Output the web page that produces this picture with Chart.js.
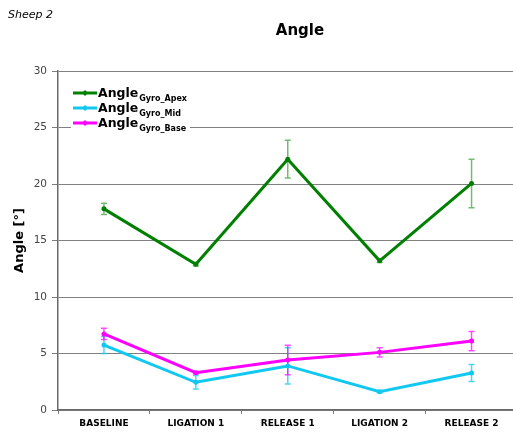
<!DOCTYPE html>
<html>
<head>
<meta charset="utf-8">
<script src="https://cdn.jsdelivr.net/npm/chart.js@4/dist/chart.umd.min.js"></script>
<style>
  html, body { margin: 0; padding: 0; background: #ffffff; overflow: hidden; }
  #wrap { width: 513px; height: 435px; overflow: hidden; }
</style>
</head>
<body>
<div id="wrap"><canvas id="chart" width="520" height="435"></canvas></div>
<script>
// Gyro angle per phase, mean and spread
const categories = ['BASELINE', 'LIGATION 1', 'RELEASE 1', 'LIGATION 2', 'RELEASE 2'];

const apexValues = [17.8, 12.9, 22.2, 13.2, 20.05];
const apexErrors = [0.5, 0.15, 1.67, 0.15, 2.15];

const midValues = [5.75, 2.45, 3.9, 1.62, 3.27];
const midErrors = [0.75, 0.6, 1.6, 0.1, 0.75];

const baseValues = [6.73, 3.3, 4.42, 5.1, 6.1];
const baseErrors = [0.5, 0.1, 1.3, 0.4, 0.85];

const yTicks = [0, 5, 10, 15, 20, 25, 30];

const seriesNames = ['Angle', 'Angle', 'Angle'];
const seriesSubs = ['Gyro_Apex', 'Gyro_Mid', 'Gyro_Base'];

const FONT = "'DejaVu Sans', Verdana, sans-serif";

// Vertical error bars with caps, drawn underneath the lines
const errorBars = {
  id: 'errorBars',
  beforeDatasetsDraw(chart) {
    const ctx = chart.ctx;
    const y = chart.scales.y;
    chart.data.datasets.forEach((ds, i) => {
      const meta = chart.getDatasetMeta(i);
      ctx.save();
      ctx.strokeStyle = ds.errorColor;
      ctx.lineWidth = 1.5;
      meta.data.forEach((pt, j) => {
        const v = ds.data[j];
        const e = ds.errors[j];
        const top = y.getPixelForValue(v + e);
        const bot = y.getPixelForValue(v - e);
        const x = pt.x;
        ctx.beginPath();
        ctx.moveTo(x, top); ctx.lineTo(x, bot);
        ctx.moveTo(x - 3, top); ctx.lineTo(x + 3, top);
        ctx.moveTo(x - 3, bot); ctx.lineTo(x + 3, bot);
        ctx.stroke();
      });
      ctx.restore();
    });
  }
};

// Chart title, sheet caption and a legend with subscripted labels
const decorations = {
  id: 'decorations',
  afterDraw(chart) {
    const ctx = chart.ctx;
    ctx.save();
    ctx.fillStyle = '#000';
    ctx.textBaseline = 'alphabetic';

    ctx.font = 'italic 11px ' + FONT;
    ctx.textAlign = 'left';
    ctx.fillText('Sheep 2', 8, 18);

    ctx.font = 'bold 15px ' + FONT;
    ctx.textAlign = 'center';
    ctx.fillText('Angle', 300, 35);

    // legend box
    const area = chart.chartArea;
    const lx = area.left + 10, ly = area.top + 12;
    ctx.fillStyle = '#ffffff';
    ctx.fillRect(lx + 3, ly, 119, 48);

    chart.data.datasets.forEach((ds, i) => {
      const cy = ly + 10 + i * 15;
      ctx.strokeStyle = ds.borderColor;
      ctx.lineWidth = 3;
      ctx.beginPath();
      ctx.moveTo(lx + 5, cy); ctx.lineTo(lx + 29, cy);
      ctx.stroke();
      ctx.fillStyle = ds.borderColor;
      ctx.beginPath();
      ctx.moveTo(lx + 17, cy - 3); ctx.lineTo(lx + 20, cy);
      ctx.lineTo(lx + 17, cy + 3); ctx.lineTo(lx + 14, cy);
      ctx.closePath(); ctx.fill();

      ctx.fillStyle = '#000';
      ctx.textAlign = 'left';
      ctx.font = 'bold 12.5px ' + FONT;
      ctx.fillText(seriesNames[i], lx + 30, cy + 4);
      const w = ctx.measureText(seriesNames[i]).width;
      ctx.font = 'bold 8px ' + FONT;
      ctx.fillText(seriesSubs[i], lx + 30 + w + 1, cy + 8);
    });
    ctx.restore();
  }
};

const makeSet = (values, errors, color, errColor) => ({
  data: values,
  errors: errors,
  borderColor: color,
  backgroundColor: color,
  errorColor: errColor,
  borderWidth: 3,
  pointRadius: 2.5,
  pointHoverRadius: 2.5,
  pointBorderWidth: 0,
  tension: 0,
  fill: false
});

new Chart(document.getElementById('chart'), {
  type: 'line',
  data: {
    labels: categories,
    datasets: [
      makeSet(apexValues, apexErrors, '#008000', 'rgba(40,150,40,0.65)'),
      makeSet(midValues, midErrors, '#10c8f0', 'rgba(16,200,240,0.75)'),
      makeSet(baseValues, baseErrors, '#ff00ff', 'rgba(255,0,255,0.7)')
    ]
  },
  options: {
    responsive: false,
    animation: false,
    layout: { padding: { top: 71, right: 2, left: 0, bottom: 0 } },
    plugins: {
      legend: { display: false },
      title: { display: false },
      tooltip: { enabled: false }
    },
    scales: {
      x: {
        offset: true,
        afterFit(scale) { scale.height = 25; },
        grid: {
          offset: true,
          drawOnChartArea: false,
          tickLength: 4,
          color: '#7f7f7f'
        },
        border: { color: '#6a6a6a', width: 1.5 },
        ticks: {
          color: '#000',
          padding: 4,
          maxRotation: 0,
          font: { family: FONT, size: 9, weight: 'bold' }
        }
      },
      y: {
        min: 0,
        max: 30,
        afterFit(scale) { scale.width = 58; },
        afterBuildTicks(scale) { scale.ticks = yTicks.map(v => ({ value: v })); },
        grid: {
          color: '#808080',
          lineWidth: 1,
          tickLength: 6
        },
        border: { color: '#6a6a6a', width: 1.5 },
        ticks: {
          color: '#444',
          padding: 5,
          font: { family: FONT, size: 10.5 }
        },
        title: {
          display: true,
          text: 'Angle [°]',
          color: '#000',
          padding: { top: 12, bottom: 0 },
          font: { family: FONT, size: 13, weight: 'bold' }
        }
      }
    }
  },
  plugins: [errorBars, decorations]
});
</script>
</body>
</html>
